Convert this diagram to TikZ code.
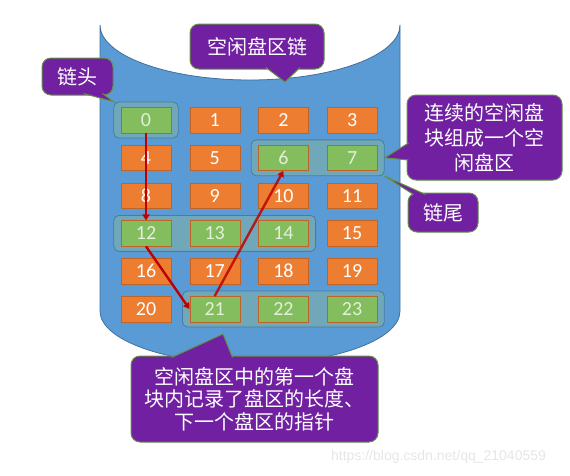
\documentclass[tikz,border=0pt]{standalone}
\usepackage{fontspec}
\setmainfont{Carlito}
\newfontfamily\cjk{Noto Sans CJK SC}
\newfontfamily\wmfont{Liberation Sans}
\usetikzlibrary{arrows.meta,fit,calc}
\definecolor{diskblue}{RGB}{91,155,213}
\definecolor{diskline}{RGB}{65,113,156}
\definecolor{blockorange}{RGB}{237,125,49}
\definecolor{orangeline}{RGB}{190,100,40}
\definecolor{blockgreen}{RGB}{132,189,94}
\definecolor{greentext}{RGB}{226,240,217}
\definecolor{groupteal}{RGB}{112,168,186}
\definecolor{groupline}{RGB}{70,125,160}
\definecolor{bubblepurple}{RGB}{112,32,160}
\definecolor{bubbleline}{RGB}{100,145,70}
\definecolor{linkred}{RGB}{192,0,0}
\definecolor{wmgray}{RGB}{230,230,230}

\pgfdeclarelayer{back}
\pgfdeclarelayer{mid}
\pgfsetlayers{back,mid,main}

\tikzset{
  block/.style={draw=orangeline, fill=blockorange, text=white, minimum width=50pt,
    minimum height=25.5pt, inner sep=0pt, font=\fontsize{20}{20}\selectfont},
  freeblock/.style={block, fill=blockgreen, text=greentext},
  freerun/.style={draw=groupline, fill=groupteal, rounded corners=5pt,
    inner xsep=7pt, inner ysep=5pt, line width=0.8pt},
  chainlink/.style={linkred, line width=2.4pt, -{Triangle[length=6pt,width=7pt]}},
  bubble/.style={draw=bubbleline, fill=bubblepurple, text=white, rounded corners=9pt,
    line width=1pt, align=center, inner sep=0pt, font=\cjk\fontsize{20}{25}\selectfont},
  pointer/.style={draw=bubbleline, fill=bubblepurple, line width=1pt},
}

\begin{document}
\begin{tikzpicture}[x=1pt, y=-1pt]
        \useasboundingbox (0,0) rectangle (570,475);

        % Disk (cylinder)
        \begin{pgfonlayer}{back}
        \filldraw[fill=diskblue, draw=diskline, line width=0.8pt]
          (100,25) -- (100,311) arc[start angle=180, end angle=0, x radius=150, y radius=53]
          -- (400,25) arc[start angle=0, end angle=180, x radius=150, y radius=55] -- cycle;
        \end{pgfonlayer}

        % Disk blocks 0..23
        \foreach \n in {1,2,3,4,5,8,9,10,11,15,16,17,18,19,20}
          \node[block] (c\n) at ({146+68.7*mod(\n,4)}, {120+37.8*int(\n/4)}) {\n};
        \foreach \n in {0,6,7,12,13,14,21,22,23}
          \node[freeblock] (c\n) at ({146+68.7*mod(\n,4)}, {120+37.8*int(\n/4)}) {\n};

        % Free regions
        \begin{pgfonlayer}{mid}
        \node[freerun, fit=(c0)] (g0) {};
        \node[freerun, fit=(c6)(c7)] (g6) {};
        \node[freerun, fit=(c12)(c14)] (g12) {};
        \node[freerun, fit=(c21)(c23)] (g21) {};
        \end{pgfonlayer}

        % Chain pointers
        \draw[chainlink] (c0.south) -- (c12.north);
        \draw[chainlink] (c12.south) -- (c21.west);
        \draw[chainlink, opacity=0.85] (c21.north) -- (c6.south);

        % Callouts
        \coordinate (titletip) at (285,82);
        \coordinate (notetip) at (223,334);

        \node[bubble, minimum width=134pt, minimum height=45pt] (title) at (257,46.5) {空闲盘区链};
        \filldraw[pointer] ($(title.south)+(9,-2)$) -- (titletip) -- ($(title.south)+(43,-2)$);

        \node[bubble, minimum width=71pt, minimum height=37pt] (head) at (77.5,76.5) {链头};
        \filldraw[pointer] ($(head.south east)+(-30,-2)$) -- (g0.north west) -- ($(head.south east)+(-11,-2)$);

        \node[bubble, minimum width=155pt, minimum height=85pt] (region) at (484.5,137.5)
          {连续的空闲盘\\块组成一个空\\闲盘区};
        \filldraw[pointer] ($(region.west)+(2,5.5)$) -- (g6.east) -- ($(region.west)+(2,22.5)$);

        \node[bubble, minimum width=70pt, minimum height=39pt] (tail) at (443,212.5) {链尾};
        \filldraw[pointer] ($(tail.north west)+(6,2)$) -- (g6.south east) -- ($(tail.north west)+(18,2)$);

        \node[bubble, minimum width=247pt, minimum height=86pt, font=\cjk\fontsize{20}{22.5}\selectfont]
          (note) at (254.5,399) {空闲盘区中的第一个盘\\块内记录了盘区的长度、\\下一个盘区的指针};
        \filldraw[pointer] ($(note.north west)+(41,2)$) -- (notetip) -- ($(note.north west)+(102,2)$);

        % Watermark
        \node[font=\wmfont\fontsize{14}{14}\selectfont, text=wmgray] (mark) at (438.5,457)
          {https://blog.csdn.net/qq\_21040559};
\end{tikzpicture}
\end{document}
